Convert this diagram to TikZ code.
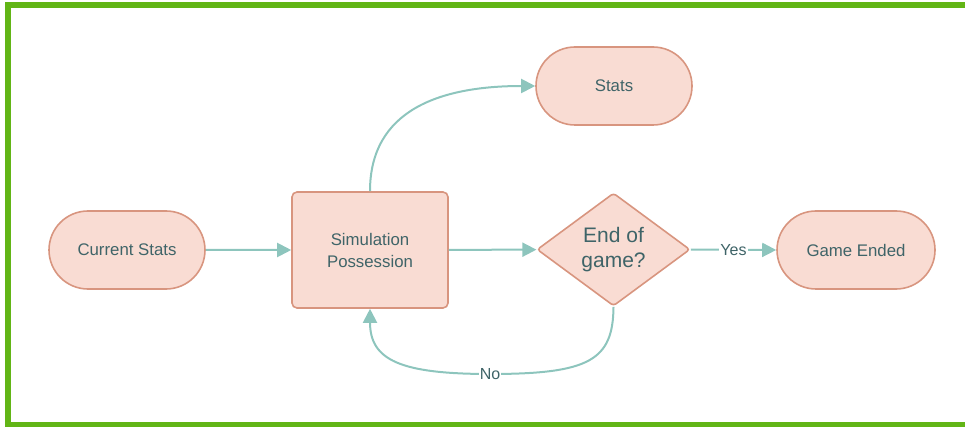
\documentclass[tikz,border=0pt]{standalone}
\usepackage{fontspec}
\setmainfont{Liberation Sans}
\usetikzlibrary{shapes.geometric,shapes.misc,arrows.meta}
\definecolor{nodefill}{HTML}{F9DCD3}
\definecolor{nodedraw}{HTML}{D8957F}
\definecolor{txt}{HTML}{3F6468}
\definecolor{conn}{HTML}{8DC5BD}
\definecolor{frame}{HTML}{62B516}
\tikzset{
  base/.style={fill=nodefill, draw=nodedraw, line width=1.6pt, text=txt, font=\fontsize{16.8}{22}\selectfont, align=center, inner sep=0pt},
  term/.style={base, rounded rectangle, minimum width=156pt, minimum height=78pt},
  procbox/.style={base, rectangle, rounded corners=5pt, minimum width=156pt, minimum height=116pt},
  decision/.style={base, diamond, rounded corners=3pt, minimum width=153pt, minimum height=113pt, aspect=1.35, font=\fontsize{21}{25}\selectfont},
  conn/.style={draw=conn, line width=2pt, -{Triangle[length=14pt,width=14pt]}},
  lbl/.style={fill=white, text=txt, inner sep=1pt, font=\fontsize{16}{18}\selectfont}
}
\begin{document}
\begin{tikzpicture}[x=1pt,y=-1pt]
\useasboundingbox (0,0) rectangle (965,427);
\draw[frame, line width=6pt] (968,5) -- (8,5) -- (8,424.5) -- (968,424.5);
\node[term] (cur) at (127,250) {Current Stats};
\node[procbox] (sim) at (370,250) {Simulation\\Possession};
\node[term] (stats) at (614,86) {Stats};
\node[decision] (dec) at (613.5,249.5) {End of\\game?};
\node[term, minimum width=158pt] (end) at (856,250) {Game Ended};
\draw[conn] (cur) -- (sim);
\draw[conn] (sim.north) .. controls (370,110) and (440,86) .. (stats.west);
\draw[conn] (sim) -- (dec);
\draw[conn] (dec.east) -- node[lbl] {Yes} (end.west);
\coordinate (nobot) at (490,374);
\draw[conn] (dec.south) .. controls (613,360) and (590,374) .. (nobot) node[lbl] {No} .. controls (400,374) and (370,360) .. (sim.south);
\end{tikzpicture}
\end{document}
